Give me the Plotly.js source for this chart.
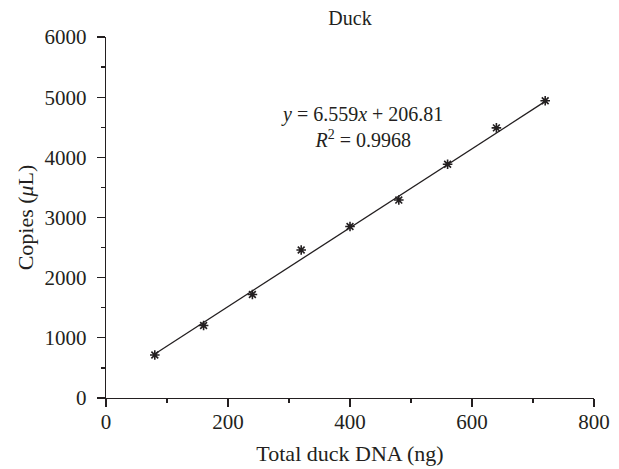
<!DOCTYPE html>
<html>
<head>
<meta charset="utf-8">
<script src="https://cdn.plot.ly/plotly-3.0.1.min.js"></script>
<style>html,body{margin:0;padding:0;background:#fff;}#chart{width:619px;height:469px;}</style>
</head>
<body>
<div id="chart"></div>
<script>
const dnaNg = [80, 160, 240, 320, 400, 480, 560, 640, 720];
const copies = [715, 1205, 1720, 2460, 2850, 3290, 3885, 4490, 4940];
const slope = 6.559;
const intercept = 206.81;
const fitX = [80, 720];
const fitY = fitX.map(x => slope * x + intercept);

const font = 'Liberation Serif, Times New Roman, serif';
const ink = '#231f20';

const traces = [
  {x: fitX, y: fitY, mode: 'lines', line: {color: ink, width: 1.3}, hoverinfo: 'skip'},
  {x: dnaNg, y: copies, mode: 'markers',
   marker: {symbol: 'asterisk-open', size: 8, color: ink, line: {color: ink, width: 1.6}}}
];

const layout = {
  width: 619, height: 469,
  margin: {l: 106, r: 25, t: 37, b: 71},
  paper_bgcolor: '#fff', plot_bgcolor: '#fff',
  showlegend: false,
  font: {family: font, color: ink, size: 20},
  title: {text: 'Duck', font: {family: font, size: 20, color: ink}, x: 0.5, xref: 'paper', xanchor: 'center', y: 0.962, yanchor: 'middle'},
  xaxis: {
    range: [0, 800], dtick: 200, tick0: 0,
    showgrid: false, zeroline: false,
    showline: true, linecolor: ink, linewidth: 1.3,
    ticks: 'outside', ticklen: 8, tickwidth: 1.3, tickcolor: ink,
    ticklabelstandoff: -4,
    minor: {dtick: 100, ticks: 'outside', ticklen: 4, tickwidth: 1.3, tickcolor: ink, showgrid: false},
    tickfont: {family: font, size: 21, color: ink},
    title: {text: 'Total duck DNA (ng)', font: {family: font, size: 22, color: ink}, standoff: 13}
  },
  yaxis: {
    range: [0, 6000], dtick: 1000, tick0: 0,
    showgrid: false, zeroline: false,
    showline: true, linecolor: ink, linewidth: 1.3,
    ticks: 'outside', ticklen: 8, tickwidth: 1.3, tickcolor: ink,
    ticklabelstandoff: 6,
    minor: {dtick: 500, ticks: 'outside', ticklen: 4, tickwidth: 1.3, tickcolor: ink, showgrid: false},
    tickfont: {family: font, size: 21, color: ink},
    title: {text: 'Copies (<i>μ</i>L)', font: {family: font, size: 22, color: ink}, standoff: 4}
  },
  annotations: [{
    xref: 'x', yref: 'y', x: 420, y: 4500,
    text: '<i>y</i> = 6.559<i>x</i> + 206.81<br><i>R</i><sup>2</sup> = 0.9968',
    showarrow: false, align: 'center',
    font: {family: font, size: 20, color: ink}
  }]
};

Plotly.newPlot('chart', traces, layout, {displayModeBar: false, staticPlot: true});
</script>
</body>
</html>
